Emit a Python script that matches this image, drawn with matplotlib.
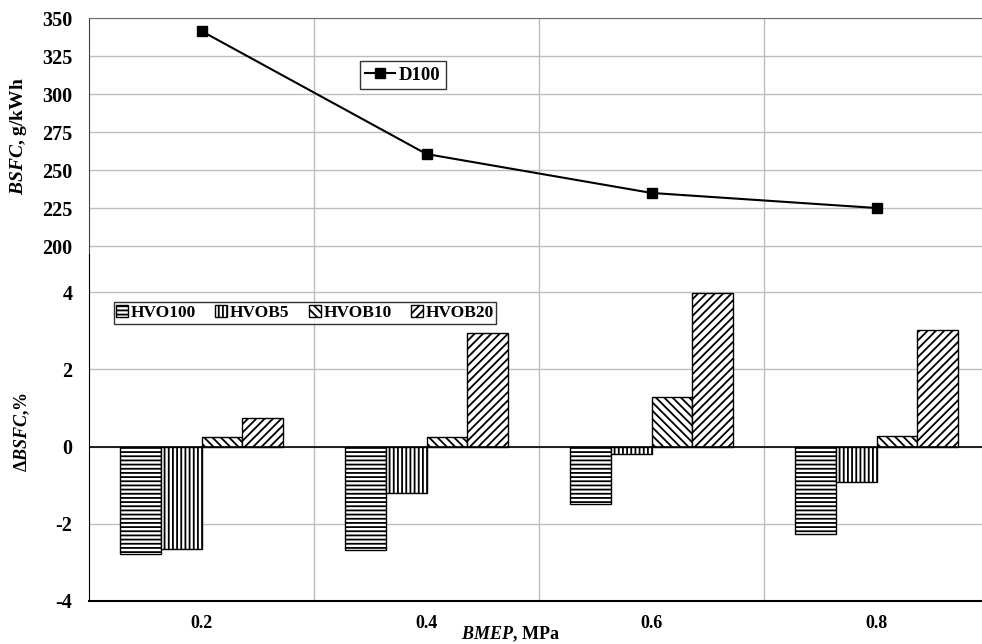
import numpy as np
import matplotlib
matplotlib.use('Agg')
import matplotlib.pyplot as plt

# BSFC of diesel and relative change for the HVO blends
bmep = ['0.2', '0.4', '0.6', '0.8']
d100 = [341.4, 260.5, 234.9, 225.0]

blend_names = ['HVO100', 'HVOB5', 'HVOB10', 'HVOB20']
hvo100 = [-2.78, -2.68, -1.50, -2.27]
hvob5 = [-2.65, -1.19, -0.18, -0.93]
hvob10 = [0.26, 0.26, 1.29, 0.28]
hvob20 = [0.73, 2.93, 3.98, 3.02]

plt.rcParams['font.family'] = 'Liberation Serif'
plt.rcParams['font.weight'] = 'bold'
plt.rcParams['axes.labelweight'] = 'bold'
plt.rcParams['axes.unicode_minus'] = False
plt.rcParams['mathtext.fontset'] = 'custom'
plt.rcParams['mathtext.it'] = 'Liberation Serif:italic:bold'
plt.rcParams['mathtext.rm'] = 'Liberation Serif:bold'
plt.rcParams['hatch.linewidth'] = 1.3
plt.rcParams['hatch.color'] = 'black'

grid_c = '#bdbdbd'
W, H = 982, 644
fig = plt.figure(figsize=(W / 100, H / 100), dpi=100)

def px_axes(x0, y0, x1, y1):
  return fig.add_axes([x0 / W, 1 - y1 / H, (x1 - x0) / W, (y1 - y0) / H])

x = np.arange(len(bmep))

# --- top: absolute BSFC ---
ax1 = px_axes(89, 18, 989, 253.6)
ax1.plot(x, d100, color='black', lw=1.5, marker='s', ms=6.5, label='D100', zorder=3)
ax1.set_xlim(-0.5, 3.5)
ax1.set_ylim(195, 350)
ax1.set_yticks(np.arange(200, 351, 25))
ax1.set_xticks(x + 0.5, minor=True)
ax1.set_xticks([])
ax1.grid(True, axis='y', color=grid_c, lw=1)
ax1.grid(True, axis='x', which='minor', color=grid_c, lw=1)
ax1.tick_params(axis='y', length=0, pad=12, labelsize=14.5)
ax1.tick_params(axis='x', which='both', length=0)
ax1.spines['bottom'].set_visible(False)
ax1.spines['right'].set_visible(False)
ax1.spines['top'].set_color('#707070')
ax1.spines['left'].set_color('#404040')
ax1.set_ylabel(r'$BSFC$, g/kWh', fontsize=14)
ax1.yaxis.set_label_coords(-60 / 900, 0.5)
leg1 = ax1.legend(loc='center', bbox_to_anchor=((403 - 89) / 900, 1 - (75 - 18) / 235.6),
                  fontsize=13.5, frameon=True, fancybox=False, handlelength=1.6,
                  handletextpad=0.2, borderpad=0.3, borderaxespad=0)
leg1.get_frame().set_edgecolor('black')
leg1.get_frame().set_linewidth(1.0)

# --- bottom: relative change ---
ax2 = px_axes(89, 253.5, 989, 601)
w = 0.182
series = [hvo100, hvob5, hvob10, hvob20]
hatches = ['----', '||||', '\\\\\\\\', '////']
for i, (vals, name, hat) in enumerate(zip(series, blend_names, hatches)):
  ax2.bar(x + (i - 1.5) * w, vals, width=w, color='white', edgecolor='black',
          lw=1.0, hatch=hat, label=name, zorder=3)
ax2.axhline(0, color='black', lw=1.2, zorder=4)
ax2.set_xlim(-0.5, 3.5)
ax2.set_ylim(-4, 5)
ax2.set_yticks([-4, -2, 0, 2, 4])
ax2.set_xticks(x)
ax2.set_xticklabels(bmep)
ax2.set_xticks(x + 0.5, minor=True)
ax2.grid(True, axis='y', color=grid_c, lw=1)
ax2.grid(True, axis='x', which='minor', color=grid_c, lw=1)
ax2.set_axisbelow(True)
ax2.tick_params(axis='y', length=0, pad=12, labelsize=14.5)
ax2.tick_params(axis='x', which='both', length=0, pad=10, labelsize=13)
ax2.spines['top'].set_visible(False)
ax2.spines['right'].set_visible(False)
ax2.spines['bottom'].set_linewidth(1.5)
ax2.set_ylabel(r'$\Delta BSFC$,%', fontsize=13)
ax2.yaxis.set_label_coords(-57 / 900, (601 - 432) / 347.5)
ax2.set_xlabel(r'$BMEP$, MPa', fontsize=13)
ax2.xaxis.set_label_coords((510 - 89) / 900, -(624 - 601) / 347.5)
leg2 = ax2.legend(loc='center', ncol=4,
                  bbox_to_anchor=((305 - 89) / 900, (601 - 313) / 347.5),
                  fontsize=12.5, frameon=True, fancybox=False, handlelength=0.7,
                  handleheight=0.7, handletextpad=0.15, columnspacing=1.1,
                  borderpad=0.15, borderaxespad=0)
leg2.get_frame().set_edgecolor('black')
leg2.get_frame().set_linewidth(1.0)

fig.savefig('out.png', dpi=100, facecolor='white')
